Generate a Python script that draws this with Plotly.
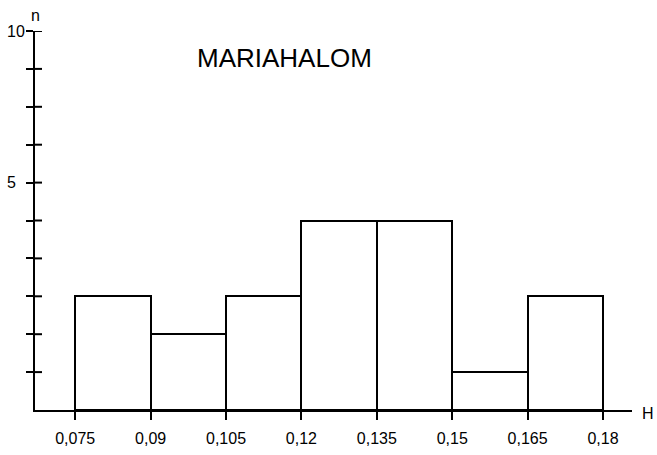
import plotly.graph_objects as go

# Histogram of H values, bin width 0.015
bin_edges = [0.075, 0.09, 0.105, 0.12, 0.135, 0.15, 0.165, 0.18]
counts = [3, 2, 3, 5, 5, 1, 3]
edge_labels = ["0,075", "0,09", "0,105", "0,12", "0,135", "0,15", "0,165", "0,18"]

# y axis: a tick at every count, only two of them labelled
y_ticks = list(range(1, 11))
y_tick_text = ["", "", "", "", "", "5", "", "", "", "10"]

title_text = "MARIAHALOM"
x_name = "H"
y_name = "n"

width = bin_edges[1] - bin_edges[0]
centers = [(a + b) / 2 for a, b in zip(bin_edges[:-1], bin_edges[1:])]

fig = go.Figure()
fig.add_trace(go.Bar(
    x=centers,
    y=counts,
    width=[width] * len(counts),
    marker=dict(color="white", line=dict(color="black", width=2)),
    showlegend=False,
))

font_family = "Liberation Sans, Arial, sans-serif"
ink = "black"

fig.update_layout(
    width=657,
    height=455,
    margin=dict(l=35, r=25, t=31, b=45),
    paper_bgcolor="white",
    plot_bgcolor="white",
    font=dict(family=font_family, color=ink, size=14),
    bargap=0,
    xaxis=dict(
        range=[0.0670, 0.18577],
        tickvals=bin_edges,
        ticktext=edge_labels,
        showline=True,
        linecolor=ink,
        linewidth=2,
        ticks="outside",
        ticklen=8,
        tickwidth=2,
        tickcolor=ink,
        showgrid=False,
        zeroline=False,
        tickfont=dict(size=16, color=ink),
        ticklabelstandoff=5,
        automargin=False,
    ),
    yaxis=dict(
        range=[0, 10],
        tickvals=y_ticks,
        showticklabels=False,
        showline=True,
        linecolor=ink,
        linewidth=2,
        ticks="outside",
        ticklen=7,
        tickwidth=2,
        tickcolor=ink,
        showgrid=False,
        zeroline=False,
        automargin=False,
    ),
)

# inner half of each y tick, so the ticks cross the axis line
for v in y_ticks:
    fig.add_shape(type="line", xref="paper", yref="y",
                  x0=0, x1=7 / 597, y0=v, y1=v,
                  line=dict(color=ink, width=2))

# y tick labels, set a little apart from the axis
for v, t in zip(y_ticks, y_tick_text):
    if t:
        fig.add_annotation(text=t, xref="paper", yref="y", x=0, y=v,
                           xanchor="right", yanchor="middle",
                           xshift=-8 if len(t) > 1 else -17,
                           showarrow=False, font=dict(size=16, color=ink))

fig.add_annotation(text=title_text, xref="paper", yref="paper",
                   x=(284 - 35) / 597, y=1 - (58 - 31) / 379,
                   xanchor="center", yanchor="middle",
                   showarrow=False, font=dict(size=26, color=ink))
fig.add_annotation(text=x_name, xref="paper", yref="paper",
                   x=1 + (648 - 632) / 597, y=-(413 - 410) / 379,
                   xanchor="center", yanchor="middle",
                   showarrow=False, font=dict(size=16, color=ink))
fig.add_annotation(text=y_name, xref="paper", yref="paper",
                   x=0, y=1 + (31 - 15) / 379, xanchor="center", yanchor="middle",
                   showarrow=False, font=dict(size=16, color=ink))

fig.write_html("out.html")
